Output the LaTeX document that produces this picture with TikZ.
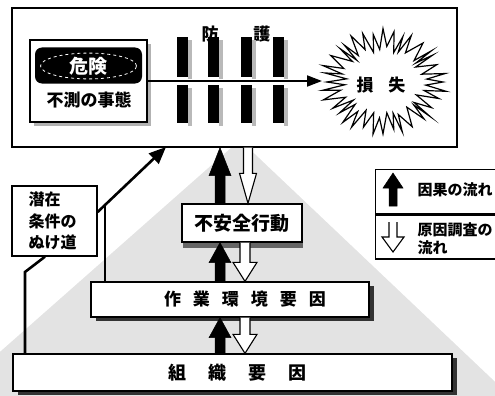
\documentclass[tikz,border=0pt]{standalone}
\usepackage{fontspec}
\setmainfont{Noto Sans CJK JP}
\usetikzlibrary{calc,arrows.meta,shadows,shapes.geometric}
\begin{document}
\begin{tikzpicture}[x=1pt,y=-1pt,
 box/.style={draw=black,line width=1.3pt,fill=white,inner sep=0pt},
 jp/.style={font=\fontsize{#1}{#1}\selectfont\bfseries},
 upblack/.style n args={3}{draw=black,fill=black,line width=0.5pt,line join=miter,
   to path={let \p1=(\tikztostart),\p2=(\tikztotarget) in
   ({\x1-#2},{\y1}) -- ({\x1-#2},{\y2-#1}) -- ({\x1-#3},{\y2-#1}) -- ({\x1},{\y2})
   -- ({\x1+#3},{\y2-#1}) -- ({\x1+#2},{\y2-#1}) -- ({\x1+#2},{\y1}) -- cycle}},
 downhollow/.style n args={3}{draw=black,fill=white,line width=1.1pt,line join=miter,
   to path={let \p1=(\tikztostart),\p2=(\tikztotarget) in
   ({\x1-#2},{\y1}) -- ({\x1-#2},{\y2+#1}) -- ({\x1-#3},{\y2+#1}) -- ({\x1},{\y2})
   -- ({\x1+#3},{\y2+#1}) -- ({\x1+#2},{\y2+#1}) -- ({\x1+#2},{\y1})}},
 latentline/.style={line width=2.6pt},
 shadowbk/.style={drop shadow={shadow xshift=5pt,shadow yshift=-4pt,fill=black!80,opacity=1}},
 shadowgr/.style={drop shadow={shadow xshift=4pt,shadow yshift=-4pt,fill=gray!60,opacity=1}},
 bar/.style={fill=black},
 barshade/.style={fill=gray!55}
]
\useasboundingbox (0,0) rectangle (495,396);
% stippled pyramid background
\fill[gray!22] (240,140) -- (-50,396) -- (510,396) -- cycle;

% top box
\node[box,minimum width=445pt,minimum height=139pt] (top) at (234.5,77.5) {};
\node[jp=17] (bogo) at (236,34) {防\hspace{35pt}護};

% barriers
\foreach \bx in {177,208,241,273}{
  \fill[barshade] (\bx+11,40) rectangle (\bx+15,79);
  \fill[bar] (\bx,37) rectangle (\bx+11,77);
  \fill[barshade] (\bx+11,88) rectangle (\bx+15,126);
  \fill[bar] (\bx,85) rectangle (\bx+11,123);
}

% hazard box
\node[box,shadowgr,minimum width=117pt,minimum height=82pt] (hazard) at (88.5,81) {};
\node[fill=black,rounded corners=7pt,minimum width=107pt,minimum height=36pt,inner sep=0pt] (hzin) at (88.5,65.5) {};
\node[ellipse,draw=white,dashed,line width=0.8pt,minimum width=96pt,minimum height=22pt,inner sep=0pt,text=white,jp=19] (hzell) at (88.5,66) {危険};
\node[jp=17] (hztext) at (89,100) {不測の事態};

% arrow to loss
\coordinate (losstip) at (322,81);
\draw[line width=1.8pt,-{Triangle[length=15pt,width=11pt]}] (hazard.east) -- (losstip);

% starburst
\draw[line width=1.2pt,fill=white,line join=miter,miter limit=20]
  plot[samples at={0,...,71}] ({383+(50+10*cos(\x*180)+4*sin(\x*47))*cos(\x*5)},
                               {82+(42+9*cos(\x*180)+3*sin(\x*61))*sin(\x*5)}) -- cycle;
\node[jp=17] (loss) at (381,85) {損\hspace{15pt}失};

% lower boxes
\node[box,shadowbk,minimum width=439pt,minimum height=37pt,jp=18] (org) at (232.5,372.5)
  {\hspace{10pt}組\hspace{22pt}織\hspace{22pt}要\hspace{22pt}因};
\node[box,shadowbk,minimum width=278pt,minimum height=35pt,jp=17] (work) at (230,299.5)
  {\hspace{30pt}作\hspace{12pt}業\hspace{12pt}環\hspace{12pt}境\hspace{12pt}要\hspace{12pt}因};
\node[box,drop shadow={shadow xshift=1pt,shadow yshift=-6pt,fill=black!60,opacity=1},
  minimum width=120pt,minimum height=38pt,jp=19] (unsafe) at (242,223) {不安全行動};

% latent conditions box
\node[box,minimum width=85pt,minimum height=70pt,text width=52pt,inner xsep=16.5pt,align=left,
  font=\fontsize{16}{21.5}\selectfont\bfseries] (latent) at (54.5,221) {潜在\\条件の\\ぬけ道};

% latent paths
\coordinate (lp1) at (25,272);
\coordinate (lp2) at (45,0);
\coordinate (lp3) at (0,212);
\coordinate (lp4) at (166,147);
\coordinate (lp5) at (105,204.6);
\draw[latentline,line join=miter] (org.north -| lp1) -- (lp1) -- (latent.south -| lp2);
\draw[latentline,-{Triangle[length=17pt,width=14pt]}] (latent.east |- lp3) -- (lp4);
\draw[latentline] (work.north -| lp5) -- (lp5);

% central arrows
\coordinate (ax) at (220,0);
\coordinate (hx1) at (248,0);
\coordinate (hx) at (245,0);
\draw[upblack={28pt}{5pt}{11pt}] (ax |- unsafe.north) to (ax |- top.south);
\draw[downhollow={30pt}{4.5pt}{8.5pt}] (hx1 |- top.south) to (hx1 |- unsafe.north);
\draw[upblack={20pt}{5pt}{11pt}] (ax |- work.north) to (ax |- unsafe.south);
\draw[downhollow={19pt}{5pt}{12pt}] (hx |- unsafe.south) to (hx |- work.north);
\draw[upblack={20pt}{5pt}{11pt}] (ax |- org.north) to (ax |- work.south);
\draw[downhollow={19pt}{5pt}{12pt}] (hx |- work.south) to (hx |- org.north);

% legend
\node[box,anchor=north west,minimum width=123pt,minimum height=44pt] (leg1) at (375,169) {};
\node[box,anchor=north west,minimum width=123pt,minimum height=44pt] (leg2) at (leg1.south west) {};
\coordinate (la1) at (393,206);
\coordinate (la2) at (393,173);
\coordinate (lb1) at (393,222);
\coordinate (lb2) at (393,252);
\draw[upblack={15pt}{4pt}{10pt}] (la1) to (la2);
\draw[downhollow={15pt}{4pt}{11pt}] (lb1) to (lb2);
\node[jp=15,anchor=west] (legt1) at (414,190) {因果の流れ};
\node[jp=15,anchor=west,align=left,font=\fontsize{15}{18}\selectfont\bfseries] (legt2) at (414,239) {原因調査の\\流れ};
\end{tikzpicture}
\end{document}
